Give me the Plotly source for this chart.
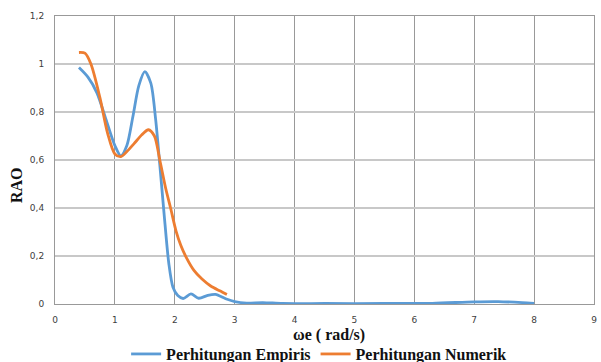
import plotly.graph_objects as go

# Response amplitude operator (RAO) vs encounter frequency
omega_empiris = [0.4, 0.55, 0.7, 0.85, 1.0, 1.1, 1.2, 1.3, 1.4, 1.5, 1.6, 1.68, 1.75, 1.82, 1.9, 1.97,
                 2.05, 2.14, 2.27, 2.4, 2.55, 2.68, 2.85, 3.0, 3.2, 3.47, 3.8, 4.5, 5.5, 6.3, 7.0, 7.4, 7.8, 8.0]
rao_empiris = [0.985, 0.945, 0.88, 0.77, 0.66, 0.617, 0.66, 0.78, 0.91, 0.968, 0.92, 0.77, 0.58, 0.38, 0.17, 0.07,
               0.035, 0.023, 0.042, 0.024, 0.036, 0.04, 0.022, 0.01, 0.004, 0.006, 0.002, 0.002, 0.002, 0.003, 0.009, 0.01, 0.006, 0.003]

omega_numerik = [0.4, 0.5, 0.6, 0.75, 0.88, 1.0, 1.1, 1.2, 1.32, 1.45, 1.56, 1.66, 1.75, 1.85, 1.93, 2.02,
                 2.1, 2.2, 2.32, 2.45, 2.6, 2.75, 2.87]
rao_numerik = [1.048, 1.045, 1.0, 0.86, 0.71, 0.625, 0.614, 0.635, 0.668, 0.705, 0.726, 0.7, 0.6, 0.48, 0.4, 0.305,
               0.245, 0.19, 0.14, 0.105, 0.075, 0.055, 0.04]

x_ticks = [0, 1, 2, 3, 4, 5, 6, 7, 8, 9]
y_ticks = [0, 0.2, 0.4, 0.6, 0.8, 1.0, 1.2]
y_tick_text = ["0", "0,2", "0,4", "0,6", "0,8", "1", "1,2"]

serif = "Liberation Serif, Times New Roman, serif"
title_font = dict(family=serif, size=16, color="#111111", weight="bold")
tick_font = dict(family="DejaVu Sans, sans-serif", size=9, color="#404040")

fig = go.Figure()
fig.add_trace(go.Scatter(
    x=omega_empiris, y=rao_empiris, mode="lines", name="Perhitungan Empiris",
    line=dict(color="#5B9BD5", width=2.8, shape="spline", smoothing=0.8)))
fig.add_trace(go.Scatter(
    x=omega_numerik, y=rao_numerik, mode="lines", name="Perhitungan Numerik",
    line=dict(color="#ED7D31", width=2.8, shape="spline", smoothing=0.8)))

fig.update_layout(
    width=601, height=362,
    margin=dict(l=55, r=7, t=16, b=58, autoexpand=False),
    paper_bgcolor="white", plot_bgcolor="white",
    showlegend=True,
    legend=dict(orientation="h", x=0.49, xanchor="center", xref="paper",
                y=0.022, yanchor="middle", yref="container",
                font=title_font, itemwidth=30, tracegroupgap=0,
                bgcolor="rgba(0,0,0,0)"),
    xaxis=dict(range=[0, 9], tickvals=x_ticks, showgrid=True, gridcolor="#999999", gridwidth=1,
               showline=True, linecolor="#999999", mirror=True, zeroline=False,
               tickfont=tick_font, ticks="", ticklen=0, ticklabelstandoff=7, automargin=False),
    yaxis=dict(range=[0, 1.2], tickvals=y_ticks, ticktext=y_tick_text, showgrid=True,
               gridcolor="#c8c8c8", gridwidth=1.5, showline=True, linecolor="#999999", mirror=True,
               zeroline=False, ticks="", ticklen=0, ticklabelstandoff=8, automargin=False,
               tickfont=tick_font),
    annotations=[
        dict(text="<b>ωe ( rad/s)</b>", xref="paper", yref="paper", x=0.508, y=-0.108,
             xanchor="center", yanchor="middle", showarrow=False, font=title_font),
        dict(text="<b>RAO</b>", xref="paper", yref="paper", x=-0.053, y=0.413,
             xanchor="right", yanchor="middle", textangle=-90, showarrow=False, font=title_font),
    ],
)

fig.write_html("out.html")
